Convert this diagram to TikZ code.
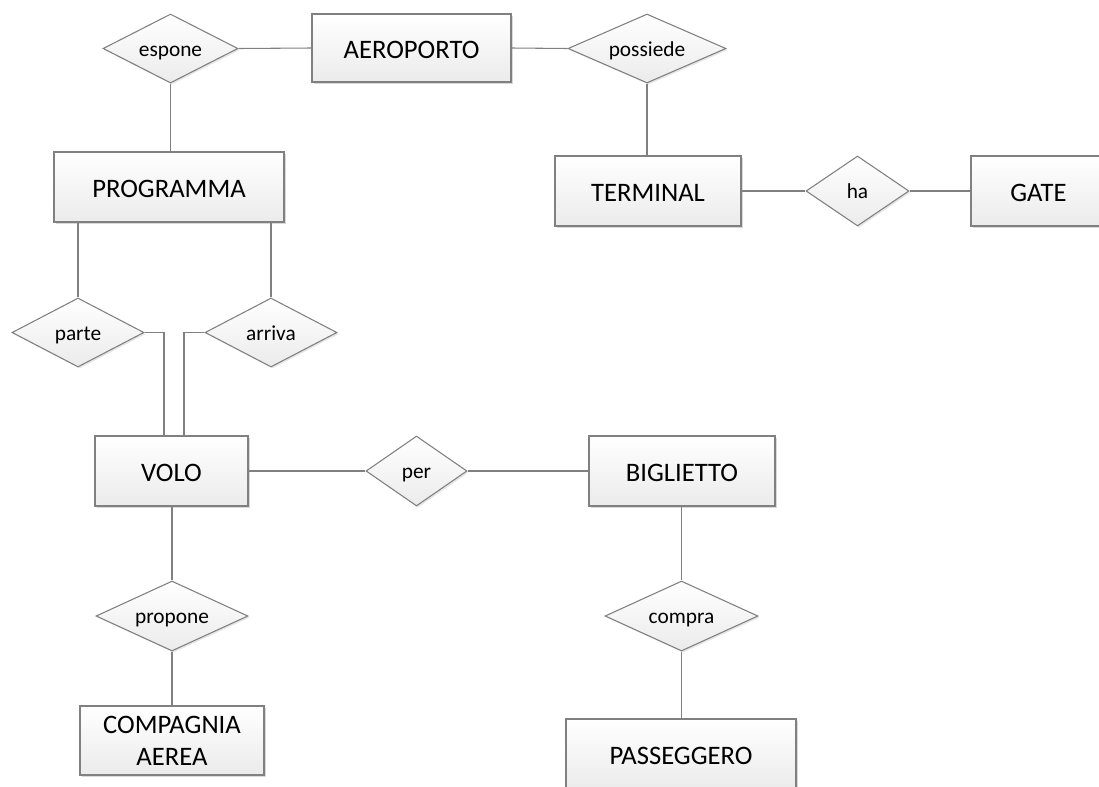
\documentclass[tikz,border=0pt]{standalone}
\usepackage{fontspec}
\setmainfont{Carlito}
\usetikzlibrary{shapes.geometric,shadows,calc}
\definecolor{edge}{HTML}{808080}
\definecolor{shade}{HTML}{EBEBEB}
\tikzset{
  ent/.style 2 args={draw=edge, line width=0.8pt, rectangle, inner sep=0pt,
    minimum width=#1*0.75pt, minimum height=#2*0.75pt,
    top color=white, bottom color=shade,
    drop shadow={shadow xshift=1.6pt, shadow yshift=-1.6pt, fill=black!25, opacity=0.6},
    font=\fontsize{20}{24}\selectfont, align=center,
    text height=15pt, text depth=0pt},
  rel/.style 2 args={draw=edge, line width=0.8pt, diamond, inner sep=0pt,
    minimum width=#1*0.75pt, minimum height=#2*0.75pt, shape aspect=2.1,
    top color=white, bottom color=shade,
    drop shadow={shadow xshift=1.2pt, shadow yshift=-1.2pt, fill=black!20, opacity=0.5},
    font=\fontsize{16}{19}\selectfont,
    text height=11.5pt, text depth=0.25pt},
  link/.style={draw=edge, line width=0.8pt}
}
\begin{document}
\begin{tikzpicture}[x=0.75pt,y=-0.75pt]
\path[use as bounding box] (0,0) rectangle (1099,786);
\clip (0,0) rectangle (1099,786);
% entities
\node[ent={199}{68}] (aero) at (411.5,48) {AEROPORTO};
\node[ent={230}{70}] (prog) at (169,187) {PROGRAMMA};
\node[ent={186}{70}] (term) at (648,191) {TERMINAL};
\node[ent={135}{70}] (gate) at (1038.5,191) {GATE};
\node[ent={153}{70}] (volo) at (171.5,471) {VOLO};
\node[ent={186}{70}] (big) at (682,471) {BIGLIETTO};
\node[ent={184}{69}, text height=, text depth=] (comp) at (172,740.5) {COMPAGNIA\\AEREA};
\node[ent={230}{70}] (pass) at (681,754) {PASSEGGERO};
% relationships
\node[rel={135}{69}] (espone) at (170.5,48.5) {espone};
\node[rel={158}{69}] (poss) at (647,48.5) {possiede};
\node[rel={103}{70}] (ha) at (857.5,191) {ha};
\node[rel={132}{69}] (parte) at (78,332.5) {parte};
\node[rel={132}{69}] (arriva) at (271,332.5) {arriva};
\node[rel={101}{70}] (per) at (416.5,471) {per};
\node[rel={152}{70}] (propone) at (172,616) {propone};
\node[rel={153}{70}] (compra) at (681.5,616) {compra};
% helper coordinates on VOLO top
\coordinate (vl) at ($(volo.north)+(-7.5,0)$);
\coordinate (vr) at ($(volo.north)+(12.5,0)$);
% connectors
\draw[link] (espone.east) -- (aero.west);
\draw[link] (espone.south) -- (espone.south |- prog.north);
\draw[link] (aero.east) -- (poss.west);
\draw[link] (poss.south) -- (poss.south |- term.north);
\draw[link] (term.east) -- (ha.west);
\draw[link] (ha.east) -- (gate.west);
\draw[link] (prog.south -| parte.north) -- (parte.north);
\draw[link] (prog.south -| arriva.north) -- (arriva.north);
\draw[link] (parte.east) -| (vl);
\draw[link] (arriva.west) -| (vr);
\draw[link] (volo.east) -- (per.west);
\draw[link] (per.east) -- (big.west);
\draw[link] (volo.south -| propone.north) -- (propone.north);
\draw[link] (propone.south) -- (propone.south |- comp.north);
\draw[link] (big.south -| compra.north) -- (compra.north);
\draw[link] (compra.south) -- (compra.south |- pass.north);
\end{tikzpicture}
\end{document}
